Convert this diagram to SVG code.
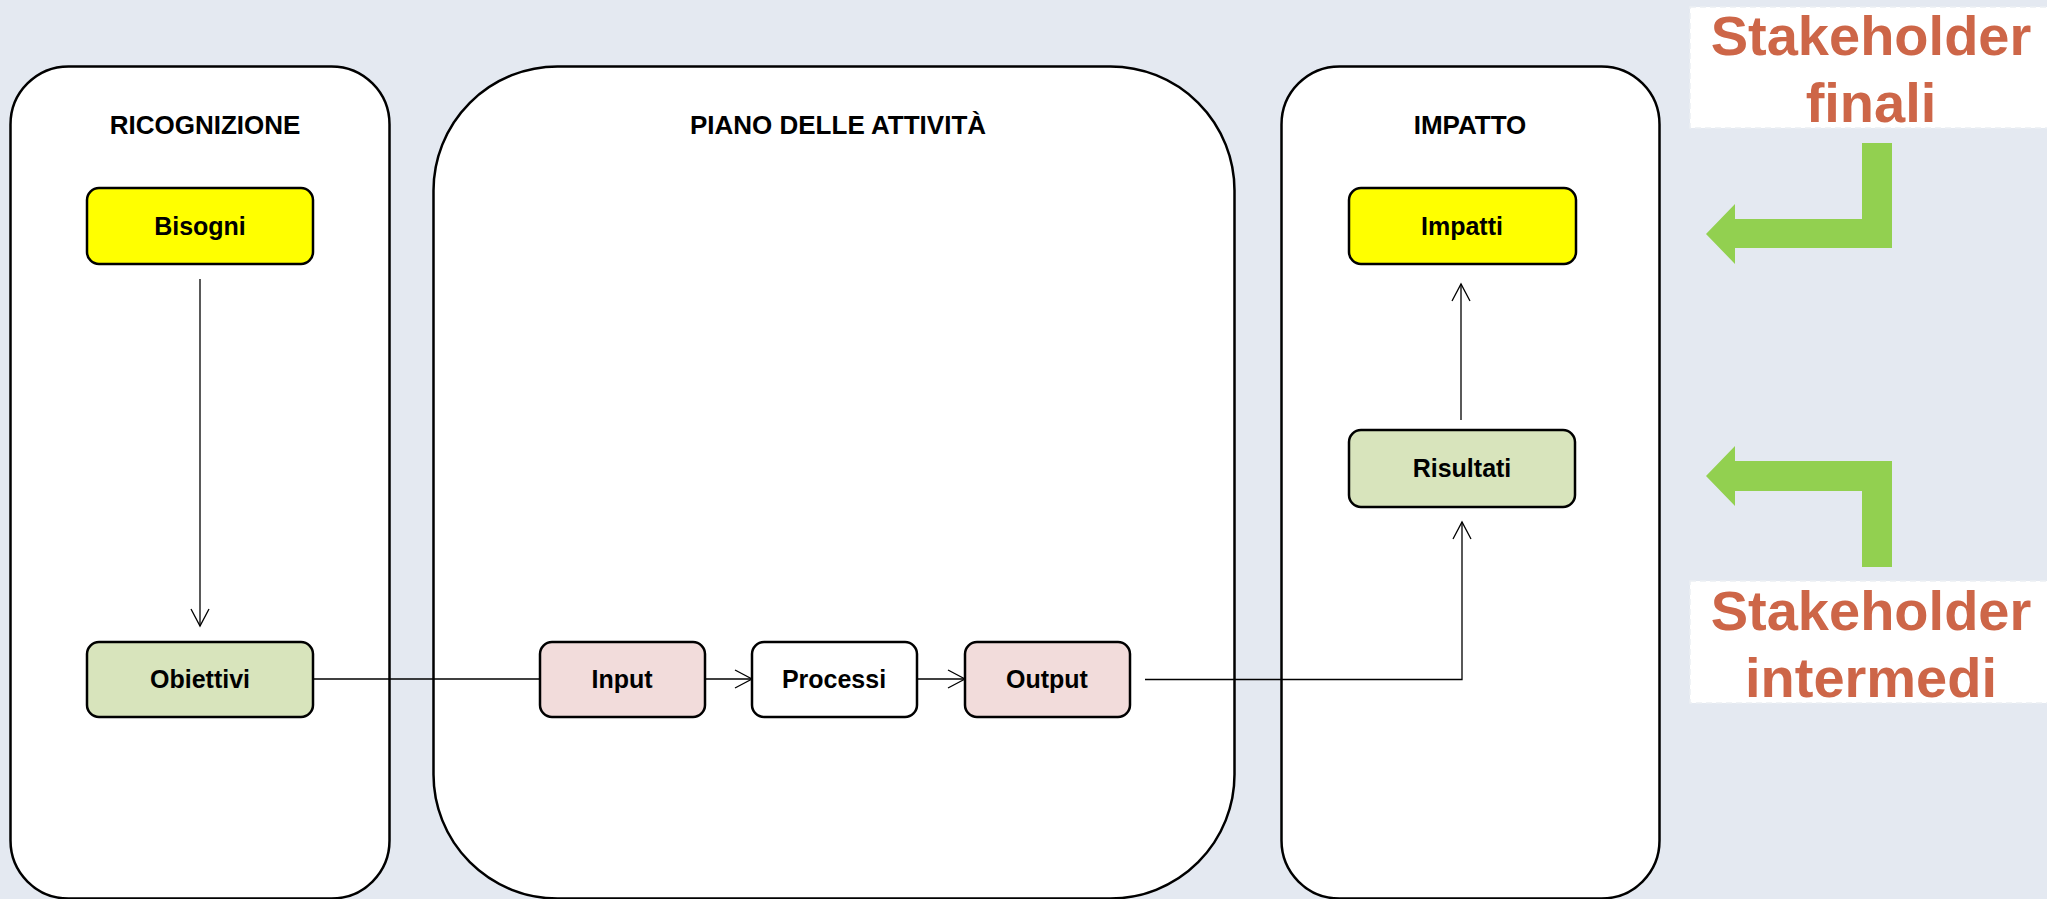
<svg xmlns="http://www.w3.org/2000/svg" width="2047" height="899" viewBox="0 0 2047 899">
  <style>
    .panel { fill: #ffffff; stroke: #000000; stroke-width: 2.5; }
    .head { font-family: "Liberation Sans", Arial, sans-serif; font-weight: bold; font-size: 26px; fill: #000000; text-anchor: middle; }
    .node { stroke: #000000; stroke-width: 2.5; }
    .label { font-family: "Liberation Sans", Arial, sans-serif; font-weight: bold; font-size: 25px; fill: #000000; text-anchor: middle; }
    .yellow { fill: #ffff00; }
    .green { fill: #d8e4bc; }
    .pink { fill: #f2dcdb; }
    .white { fill: #ffffff; }
    .conn { fill: none; stroke: #000000; stroke-width: 1.3; }
    .bend { fill: #92d050; }
    .tagbox { fill: #ffffff; stroke: #eceff3; stroke-width: 1.5; stroke-dasharray: 6 4; }
    .tag { font-family: "Liberation Sans", Arial, sans-serif; font-weight: bold; font-size: 56px; fill: #cd6648; text-anchor: middle; }
  </style>
  <defs>
    <marker id="open" markerUnits="userSpaceOnUse" markerWidth="24" markerHeight="24" viewBox="-20 -12 24 24" refX="0" refY="0" orient="auto">
      <path d="M-17,-9 L0,0 L-17,9" fill="none" stroke="#000000" stroke-width="1.3"/>
    </marker>
  </defs>

  <rect x="0" y="0" width="2047" height="899" fill="#e4e9f1"/>

  <!-- swimlane panels -->
  <g id="panel-ricognizione">
    <rect class="panel" x="10.5" y="66.5" width="379" height="832" rx="58" ry="58"/>
    <text class="head" x="205" y="134">RICOGNIZIONE</text>
  </g>
  <g id="panel-piano">
    <rect class="panel" x="433.5" y="66.5" width="801" height="832" rx="124" ry="124"/>
    <text class="head" x="838" y="134">PIANO DELLE ATTIVITÀ</text>
  </g>
  <g id="panel-impatto">
    <rect class="panel" x="1281.5" y="66.5" width="378" height="832" rx="58" ry="58"/>
    <text class="head" x="1470" y="134">IMPATTO</text>
  </g>

  <!-- connectors -->
  <g id="connectors">
    <line class="conn" x1="200" y1="279" x2="200" y2="626" marker-end="url(#open)"/>
    <line class="conn" x1="313" y1="679" x2="540" y2="679"/>
    <line class="conn" x1="705" y1="679" x2="752" y2="679" marker-end="url(#open)"/>
    <line class="conn" x1="917" y1="679" x2="965" y2="679" marker-end="url(#open)"/>
    <polyline class="conn" points="1145,679.5 1462,679.5 1462,522" marker-end="url(#open)"/>
    <line class="conn" x1="1461" y1="420" x2="1461" y2="284" marker-end="url(#open)"/>
  </g>

  <!-- nodes -->
  <g id="bisogni">
    <rect class="node yellow" x="87" y="188" width="226" height="76" rx="12"/>
    <text class="label" x="200" y="235">Bisogni</text>
  </g>
  <g id="obiettivi">
    <rect class="node green" x="87" y="642" width="226" height="75" rx="12"/>
    <text class="label" x="200" y="688">Obiettivi</text>
  </g>
  <g id="input">
    <rect class="node pink" x="540" y="642" width="165" height="75" rx="12"/>
    <text class="label" x="622" y="688">Input</text>
  </g>
  <g id="processi">
    <rect class="node white" x="752" y="642" width="165" height="75" rx="12"/>
    <text class="label" x="834" y="688">Processi</text>
  </g>
  <g id="output">
    <rect class="node pink" x="965" y="642" width="165" height="75" rx="12"/>
    <text class="label" x="1047" y="688">Output</text>
  </g>
  <g id="risultati">
    <rect class="node green" x="1349" y="430" width="226" height="77" rx="12"/>
    <text class="label" x="1462" y="477">Risultati</text>
  </g>
  <g id="impatti">
    <rect class="node yellow" x="1349" y="188" width="227" height="76" rx="12"/>
    <text class="label" x="1462" y="235">Impatti</text>
  </g>

  <!-- stakeholder tags with bent arrows -->
  <g id="stakeholder-finali">
    <rect class="tagbox" x="1690" y="7" width="370" height="121"/>
    <text class="tag" x="1871" y="55">Stakeholder</text>
    <text class="tag" x="1871" y="122">finali</text>
    <polygon class="bend" points="1706,234 1735,204 1735,219 1862,219 1862,143 1892,143 1892,248 1735,248 1735,264"/>
  </g>
  <g id="stakeholder-intermedi">
    <rect class="tagbox" x="1690" y="581" width="370" height="122"/>
    <text class="tag" x="1871" y="630">Stakeholder</text>
    <text class="tag" x="1871" y="697">intermedi</text>
    <polygon class="bend" points="1706,476 1735,446 1735,461 1892,461 1892,567 1862,567 1862,491 1735,491 1735,506"/>
  </g>
</svg>
